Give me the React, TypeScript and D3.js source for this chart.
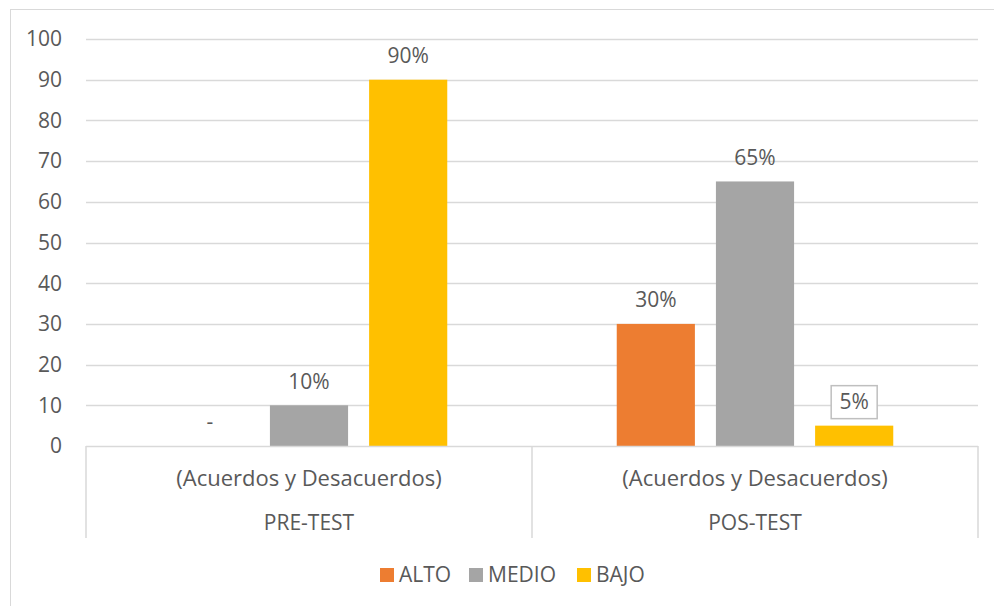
import React, { useEffect, useRef } from "react";
import * as d3 from "d3";

const groups = ["PRE-TEST", "POS-TEST"];
const subLabel = "(Acuerdos y Desacuerdos)";
const seriesNames = ["ALTO", "MEDIO", "BAJO"];
const seriesColors = ["#ED7D31", "#A5A5A5", "#FFC000"];
const altoValues = [0, 30];
const medioValues = [10, 65];
const bajoValues = [90, 5];
const yTicks = [0, 10, 20, 30, 40, 50, 60, 70, 80, 90, 100];

const W = 994, H = 606;
const FONT = "'Open Sans', sans-serif";
const FS = 21;
const TXT = "#595959";

export default function App() {
  const ref = useRef<SVGSVGElement>(null);

  useEffect(() => {
    const svg = d3.select(ref.current);
    svg.selectAll("*").remove();

    const margin = { top: 39, right: 16, bottom: 160, left: 86 };
    const w = W - margin.left - margin.right;
    const h = H - margin.top - margin.bottom;

    svg.append("rect")
      .attr("x", 10.5).attr("y", 9.5)
      .attr("width", 990).attr("height", 600)
      .attr("fill", "#fff").attr("stroke", "#D9D9D9");

    const g = svg.append("g").attr("transform", `translate(${margin.left},${margin.top})`);

    const y = d3.scaleLinear().domain([0, 100]).range([h, 0]);
    const x0 = d3.scaleBand().domain(groups).range([0, w]).padding(0);
    const bw = x0.bandwidth();
    const x1 = d3.scaleBand().domain(seriesNames)
      .range([bw * 0.19, bw * 0.81]).paddingInner(0.212);

    // gridlines
    g.selectAll(".grid").data(yTicks.filter(t => t > 0)).join("line")
      .attr("x1", 0).attr("x2", w)
      .attr("y1", d => Math.round(y(d)) + 0.5).attr("y2", d => Math.round(y(d)) + 0.5)
      .attr("stroke", "#D9D9D9").attr("stroke-width", 1.5);

    g.selectAll(".ytick").data(yTicks).join("text")
      .attr("x", -24).attr("y", d => y(d))
      .attr("dy", "0.35em").attr("text-anchor", "end")
      .attr("font-family", FONT).attr("font-size", FS).attr("fill", TXT)
      .text(d => d);

    const seriesValues = [altoValues, medioValues, bajoValues];
    const rows = groups.map((grp, gi) => seriesNames.map((s, si) => ({ grp, s, si, v: seriesValues[si][gi] })));

    const gg = g.selectAll(".grp").data(rows).join("g")
      .attr("transform", (d, i) => `translate(${x0(groups[i])},0)`);

    gg.selectAll("rect").data(d => d).join("rect")
      .attr("x", d => x1(d.s)!).attr("width", x1.bandwidth())
      .attr("y", d => y(d.v)).attr("height", d => h - y(d.v))
      .attr("fill", d => seriesColors[d.si]);

    const lbl = gg.selectAll(".lbl").data(d => d).join("g")
      .attr("transform", d => `translate(${x1(d.s)! + x1.bandwidth() / 2},${y(d.v) - 24})`);

    lbl.filter(d => d.grp === "POS-TEST" && d.s === "BAJO").append("rect")
      .attr("x", -23).attr("y", -16).attr("width", 46).attr("height", 33)
      .attr("fill", "#fff").attr("stroke", "#BFBFBF").attr("stroke-width", 1.5);

    lbl.append("text")
      .attr("text-anchor", "middle").attr("dy", "0.35em")
      .attr("font-family", FONT).attr("font-size", FS).attr("fill", TXT)
      .text(d => (d.v === 0 ? "-" : `${d.v}%`));

    // axis line and category separators
    g.append("line").attr("x1", 0).attr("x2", w).attr("y1", h + 0.5).attr("y2", h + 0.5)
      .attr("stroke", "#D9D9D9").attr("stroke-width", 1.5);
    const seps = [0, ...groups.map(gr => x0(gr)! + bw)];
    g.selectAll(".sep").data(seps).join("line")
      .attr("x1", d => d).attr("x2", d => d)
      .attr("y1", h).attr("y2", h + 92)
      .attr("stroke", "#D9D9D9").attr("stroke-width", 1.5);

    g.selectAll(".sub").data(groups).join("text")
      .attr("x", d => x0(d)! + bw / 2).attr("y", h + 32)
      .attr("dy", "0.35em").attr("text-anchor", "middle")
      .attr("font-family", FONT).attr("font-size", 22).attr("fill", TXT)
      .text(subLabel);
    g.selectAll(".cat").data(groups).join("text")
      .attr("x", d => x0(d)! + bw / 2).attr("y", h + 77)
      .attr("dy", "0.35em").attr("text-anchor", "middle")
      .attr("font-family", FONT).attr("font-size", FS).attr("fill", TXT)
      .text(d => d);

    // legend
    const legendX = [380, 469, 577];
    const lg = svg.selectAll(".leg").data(seriesNames).join("g")
      .attr("transform", (d, i) => `translate(${legendX[i]},575)`);
    lg.append("rect").attr("x", 0).attr("y", -7).attr("width", 14).attr("height", 14)
      .attr("fill", (d, i) => seriesColors[i]);
    lg.append("text").attr("x", 19).attr("dy", "0.35em")
      .attr("font-family", FONT).attr("font-size", FS).attr("fill", TXT)
      .text(d => d);
  }, []);

  return (
    <svg ref={ref} width={W} height={H}
      style={{ position: "absolute", left: 0, top: 0, display: "block" }} />
  );
}
